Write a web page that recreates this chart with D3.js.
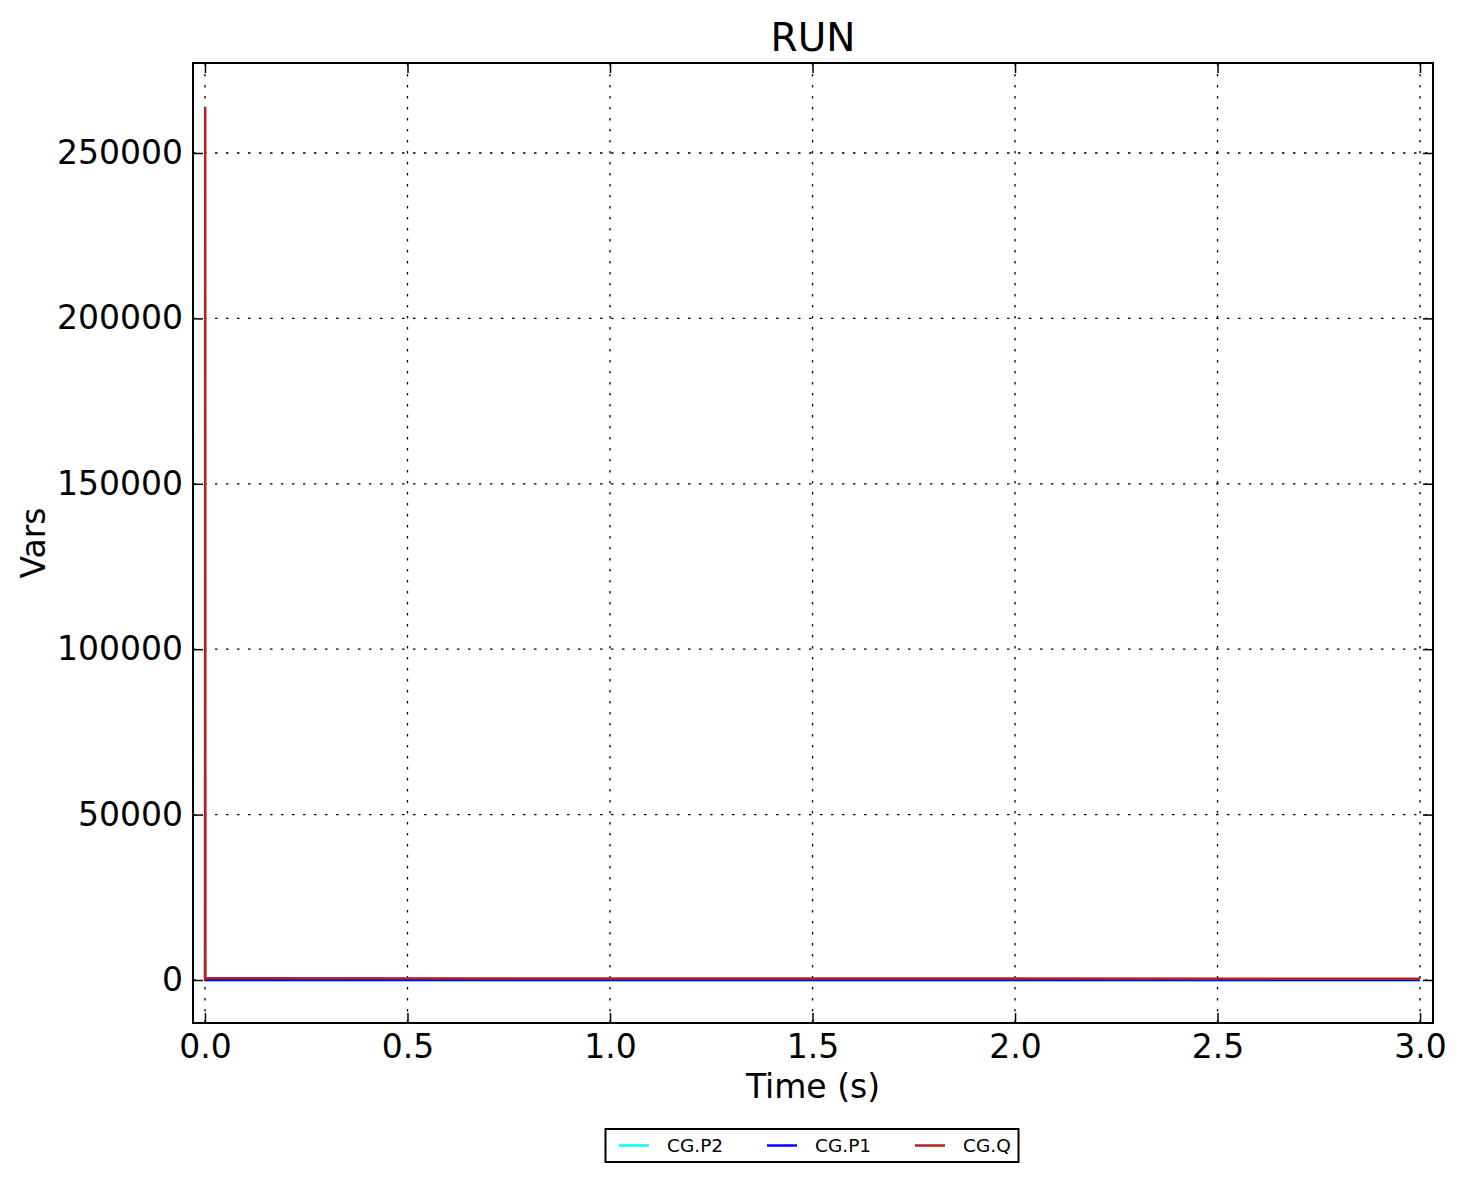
<!DOCTYPE html>
<html><head><meta charset="utf-8">
<script src="https://cdn.jsdelivr.net/npm/d3@7"></script>
<style>body{margin:0;background:#fff;} text{font-family:"DejaVu Sans",sans-serif;}</style>
</head><body>
<svg id="c" width="1464" height="1182"></svg>
<script>
const xTicks = [0.0, 0.5, 1.0, 1.5, 2.0, 2.5, 3.0];
const yTicks = [0, 50000, 100000, 150000, 200000, 250000];
const seriesNames = ["CG.P2", "CG.P1", "CG.Q"];
const seriesColors = ["#00ffff", "#0000ff", "#b22222"];
const timeP2 = [0, 0.001, 3.0];
const valsP2 = [0, 0, 0];
const timeP1 = [0, 0.001, 3.0];
const valsP1 = [0, 0, 0];
const timeQ = [0, 0.0005, 0.001, 3.0];
const valsQ = [0, 264000, 500, 400];

const svg = d3.select("#c");
const L = 193, R = 1433, T = 63, B = 1023;
const x = d3.scaleLinear().domain([-0.0296, 3.032]).range([L, R]);
const y = d3.scaleLinear().domain([-13000, 277200]).range([B, T]);

// grid
const g = svg.append("g");
g.selectAll(".gx").data(xTicks).enter().append("line")
  .attr("x1", d => x(d)).attr("x2", d => x(d)).attr("y1", T).attr("y2", B)
  .attr("stroke", "#000").attr("stroke-width", 1.3).attr("stroke-dasharray", "2.5,8.5");
g.selectAll(".gy").data(yTicks).enter().append("line")
  .attr("y1", d => y(d)).attr("y2", d => y(d)).attr("x1", L).attr("x2", R)
  .attr("stroke", "#000").attr("stroke-width", 1.3).attr("stroke-dasharray", "2.5,8.5");

// series
const line = d3.line().x(d => x(d[0])).y(d => y(d[1]));
const data = [d3.zip(timeP2, valsP2), d3.zip(timeP1, valsP1), d3.zip(timeQ, valsQ)];
data.forEach((d, i) => {
  svg.append("path").datum(d).attr("d", line).attr("fill", "none")
    .attr("stroke", seriesColors[i]).attr("stroke-width", 2.5);
});

// axes with inward ticks
const ax = d3.axisBottom(x).tickValues(xTicks).tickFormat(d3.format(".1f")).tickSizeInner(-10).tickSizeOuter(0).tickPadding(12);
const axT = d3.axisTop(x).tickValues(xTicks).tickFormat("").tickSizeInner(-10).tickSizeOuter(0);
const ay = d3.axisLeft(y).tickValues(yTicks).tickFormat(d3.format("d")).tickSizeInner(-10).tickSizeOuter(0).tickPadding(10);
const ayR = d3.axisRight(y).tickValues(yTicks).tickFormat("").tickSizeInner(-10).tickSizeOuter(0);
function style(sel){
  sel.attr("font-size", null).attr("font-family", null);
  sel.select(".domain").remove();
  sel.selectAll(".tick line").attr("stroke", "#000").attr("stroke-width", 1.5);
  sel.selectAll("text").style("font-size", "33px").attr("fill", "#000").style("font-family", "DejaVu Sans");
}
svg.append("g").attr("transform", `translate(0,${B})`).call(ax).call(style);
svg.append("g").attr("transform", `translate(0,${T})`).call(axT).call(style);
svg.append("g").attr("transform", `translate(${L},0)`).call(ay).call(style);
svg.append("g").attr("transform", `translate(${R},0)`).call(ayR).call(style);

// frame
svg.append("rect").attr("x", L).attr("y", T).attr("width", R - L).attr("height", B - T)
  .attr("fill", "none").attr("stroke", "#000").attr("stroke-width", 2);

// labels
svg.append("text").attr("x", (L + R) / 2).attr("y", 51).attr("text-anchor", "middle")
  .style("font-size", "39px").text("RUN");
svg.append("text").attr("x", (L + R) / 2).attr("y", 1098).attr("text-anchor", "middle")
  .style("font-size", "33px").text("Time (s)");
svg.append("text").attr("transform", `translate(45,${(T + B) / 2}) rotate(-90)`).attr("text-anchor", "middle")
  .style("font-size", "33px").text("Vars");

// legend
const lg = svg.append("g");
lg.append("rect").attr("x", 605.5).attr("y", 1129).attr("width", 413).attr("height", 33)
  .attr("fill", "#fff").attr("stroke", "#000").attr("stroke-width", 2);
const lx = [619, 767, 915];
seriesNames.forEach((n, i) => {
  lg.append("line").attr("x1", lx[i]).attr("x2", lx[i] + 30).attr("y1", 1145.5).attr("y2", 1145.5)
    .attr("stroke", seriesColors[i]).attr("stroke-width", 2.5);
  lg.append("text").attr("x", lx[i] + 48).attr("y", 1152).style("font-size", "18.5px").text(n);
});
</script>
</body></html>
